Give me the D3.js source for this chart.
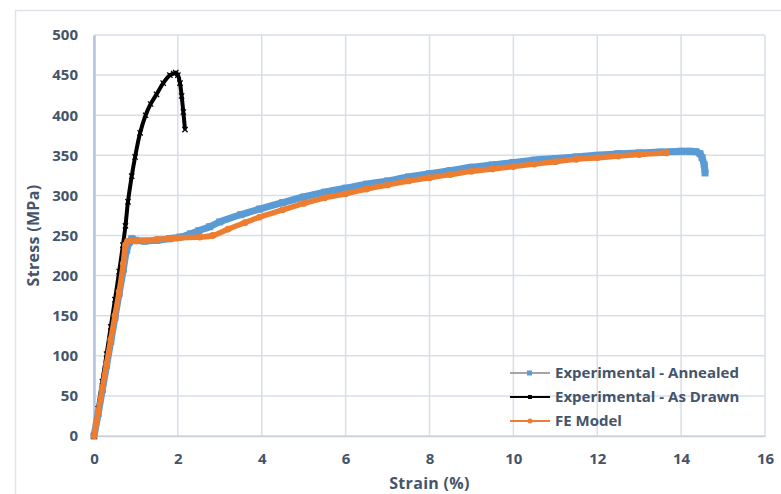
<!DOCTYPE html>
<html lang="en">

<head>
    <meta charset="UTF-8">
    <title>Stress-Strain</title>
    <script src="https://d3js.org/d3.v7.min.js"></script>
    <style>
        * {
            margin: 0;
            padding: 0;
        }

        body {
            background: #fff;
        }

        text {
            font-family: "Open Sans", sans-serif;
            font-weight: 700;
            fill: #44546a;
        }
    </style>
</head>

<body>
    <script>
        // strain (%) / stress (MPa)
        var annealedStrain = [0, 0.1, 0.2, 0.3, 0.4, 0.5, 0.6, 0.7, 0.78, 0.85, 0.9, 1.0, 1.2, 1.5, 1.8, 2.05, 2.3, 2.5, 2.76, 3.0, 3.5, 3.95, 4.5, 5, 5.5, 6, 6.5, 7, 7.5, 8, 8.5, 9, 9.5, 10, 10.5, 11, 11.5, 12, 12.5, 13, 13.5, 14, 14.2, 14.35, 14.45, 14.5, 14.55, 14.57];
        var annealedStress = [0, 28, 58, 88, 118, 148, 178, 208, 232, 242, 246, 244, 243, 244, 246, 248, 252, 256, 261, 267, 276, 283, 291, 298, 304, 309, 314, 318, 323, 327, 331, 335, 338, 341, 344, 346, 348, 350, 352, 353, 354, 355, 355, 354.5, 352, 347, 338, 328];

        var drawnStrain = [0, 0.1, 0.2, 0.3, 0.4, 0.5, 0.6, 0.69, 0.75, 0.81, 0.9, 0.98, 1.1, 1.23, 1.35, 1.49, 1.65, 1.81, 1.9, 1.95, 2.0, 2.05, 2.09, 2.13, 2.17];
        var drawnStress = [0, 34, 68, 102, 136, 170, 205, 238, 262, 292, 324, 348, 378, 400, 414, 426, 440, 450, 452, 453, 450, 440, 424, 404, 382];

        var feStrain = [0, 0.05, 0.1, 0.2, 0.3, 0.4, 0.5, 0.6, 0.7, 0.75, 0.8, 1.0, 1.5, 2.0, 2.52, 2.83, 3.2, 3.6, 3.95, 4.5, 5, 5.5, 6, 6.5, 7, 7.5, 8, 8.5, 9, 9.5, 10, 10.5, 11, 11.5, 12, 12.5, 13, 13.65];
        var feStress = [0, 15, 30, 60, 90, 120, 150, 180, 215, 238, 243, 243, 245, 247, 248, 250, 258, 266, 273, 282, 290, 297, 302, 308, 313, 318, 322, 326, 330, 333, 336, 339, 342, 345, 347, 349, 351, 353];

        var xTicks = [0, 2, 4, 6, 8, 10, 12, 14, 16];
        var yTicks = [0, 50, 100, 150, 200, 250, 300, 350, 400, 450, 500];
        var seriesNames = ["Experimental - Annealed", "Experimental - As Drawn", "FE Model"];

        var width = 781, height = 494;
        var plotLeft = 94, plotRight = 765, plotTop = 35, plotBottom = 436;

        var svg = d3.select("body").append("svg")
            .attr("width", width)
            .attr("height", height);

        // outer chart border
        svg.append("rect")
            .attr("x", 15.5).attr("y", 10.5)
            .attr("width", 800).attr("height", 520)
            .attr("fill", "none")
            .attr("stroke", "#dfe3ea")
            .attr("stroke-width", 1.5);

        var x = d3.scaleLinear().domain([0, 16]).range([plotLeft, plotRight]);
        var y = d3.scaleLinear().domain([0, 500]).range([plotBottom, plotTop]);

        // grid
        svg.append("g").selectAll("line")
            .data(xTicks)
            .enter().append("line")
            .attr("x1", function (d) { return x(d); })
            .attr("x2", function (d) { return x(d); })
            .attr("y1", plotTop).attr("y2", plotBottom)
            .attr("stroke", "#d9dee7").attr("stroke-width", 1.5);

        svg.append("g").selectAll("line")
            .data(yTicks)
            .enter().append("line")
            .attr("x1", plotLeft).attr("x2", plotRight)
            .attr("y1", function (d) { return y(d); })
            .attr("y2", function (d) { return y(d); })
            .attr("stroke", "#d9dee7").attr("stroke-width", 1.5);

        // axes
        var xAxis = svg.append("g")
            .attr("transform", "translate(0," + plotBottom + ")")
            .call(d3.axisBottom(x).tickValues(xTicks).tickSize(0).tickPadding(17));
        xAxis.select(".domain").attr("stroke", "#c9d0dc").attr("stroke-width", 1.5);

        var yAxis = svg.append("g")
            .attr("transform", "translate(" + plotLeft + ",0)")
            .call(d3.axisLeft(y).tickValues(yTicks).tickSize(0).tickPadding(16));
        yAxis.select(".domain").attr("stroke", "#b4c4dc").attr("stroke-width", 2.5);

        svg.selectAll(".tick text")
            .attr("font-size", "15px")
            .attr("font-family", "Open Sans, sans-serif")
            .attr("font-weight", 700)
            .attr("fill", "#44546a");

        svg.append("text")
            .attr("x", (plotLeft + plotRight) / 2)
            .attr("y", 489)
            .attr("text-anchor", "middle")
            .attr("font-size", "16px")
            .attr("letter-spacing", "0.3px")
            .text("Strain (%)");

        svg.append("text")
            .attr("transform", "translate(39," + (plotTop + plotBottom) / 2 + ") rotate(-90)")
            .attr("text-anchor", "middle")
            .attr("font-size", "16px")
            .attr("letter-spacing", "0.3px")
            .text("Stress (MPa)");

        function pairs(xs, ys) {
            return xs.map(function (d, i) { return [d, ys[i]]; });
        }

        var lineAny = d3.line()
            .x(function (d) { return x(d[0]); })
            .y(function (d) { return y(d[1]); })
            .curve(d3.curveCatmullRom);

        var annealed = pairs(annealedStrain, annealedStress);
        var drawn = pairs(drawnStrain, drawnStress);
        var fe = pairs(feStrain, feStress);

        // annealed: dense blue square markers -> thick band
        svg.append("path")
            .datum(annealed)
            .attr("d", lineAny)
            .attr("fill", "none")
            .attr("stroke", "#5b9bd5")
            .attr("stroke-width", 7)
            .attr("stroke-linejoin", "round");
        svg.append("g").selectAll("rect")
            .data(annealed)
            .enter().append("rect")
            .attr("x", function (d) { return x(d[0]) - 3.5; })
            .attr("y", function (d) { return y(d[1]) - 3.5; })
            .attr("width", 7).attr("height", 7)
            .attr("fill", "#5b9bd5");

        // as drawn: black
        svg.append("path")
            .datum(drawn)
            .attr("d", lineAny)
            .attr("fill", "none")
            .attr("stroke", "#000")
            .attr("stroke-width", 4)
            .attr("stroke-linejoin", "round");
        svg.append("g").selectAll("path")
            .data(drawn)
            .enter().append("path")
            .attr("d", d3.symbol().type(d3.symbolTimes).size(20))
            .attr("transform", function (d) { return "translate(" + x(d[0]) + "," + y(d[1]) + ")"; })
            .attr("stroke", "#000")
            .attr("stroke-width", 1.2)
            .attr("fill", "none");

        // FE model: orange circles
        svg.append("path")
            .datum(fe)
            .attr("d", lineAny)
            .attr("fill", "none")
            .attr("stroke", "#ed7d31")
            .attr("stroke-width", 5.5)
            .attr("stroke-linejoin", "round");
        svg.append("g").selectAll("circle")
            .data(fe)
            .enter().append("circle")
            .attr("cx", function (d) { return x(d[0]); })
            .attr("cy", function (d) { return y(d[1]); })
            .attr("r", 3.4)
            .attr("fill", "#ed7d31");

        // legend
        var legendColors = ["#a5a5a5", "#000", "#ed7d31"];
        var markerColors = ["#5b9bd5", "#000", "#ed7d31"];
        var legend = svg.append("g");
        seriesNames.forEach(function (name, i) {
            var ly = 373 + i * 24;
            legend.append("line")
                .attr("x1", 510).attr("x2", 550)
                .attr("y1", ly).attr("y2", ly)
                .attr("stroke", legendColors[i]).attr("stroke-width", 2);
            if (i === 0) {
                legend.append("rect")
                    .attr("x", 527).attr("y", ly - 2.5)
                    .attr("width", 5).attr("height", 5)
                    .attr("fill", markerColors[i]);
            } else if (i === 1) {
                legend.append("rect")
                    .attr("x", 528).attr("y", ly - 2)
                    .attr("width", 4).attr("height", 4)
                    .attr("fill", "#000");
            } else {
                legend.append("circle")
                    .attr("cx", 530).attr("cy", ly)
                    .attr("r", 2.5)
                    .attr("fill", markerColors[i]);
            }
            legend.append("text")
                .attr("x", 555).attr("y", ly)
                .attr("dy", "0.35em")
                .attr("font-size", "15px")
                .text(name);
        });
    </script>
</body>

</html>
